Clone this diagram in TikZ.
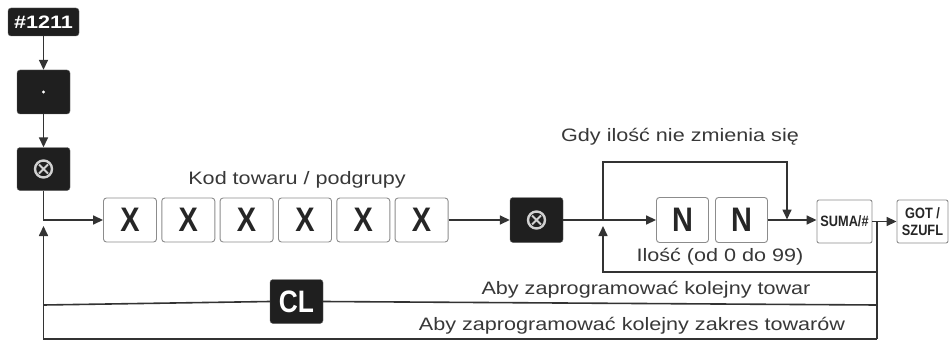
\documentclass[tikz,border=0pt]{standalone}
\usepackage{fontspec}
\setmainfont{Liberation Sans}
\newfontfamily\lab{Liberation Sans}[FakeStretch=1.2]
\newfontfamily\keyb{Liberation Sans}[FakeStretch=0.85]
\usetikzlibrary{arrows.meta}
\begin{document}
\begin{tikzpicture}[x=1pt,y=-1pt,
  ln/.style={line width=1.6pt, draw=black!80},
  arr/.style={ln,-{Triangle[length=10pt,width=9pt]}},
  keyblack/.style={fill=black!88, draw=black!60, rounded corners=3pt, minimum width=53pt, minimum height=44pt, inner sep=0pt},
  digbox/.style={draw=black!45, line width=0.9pt, fill=white, rounded corners=3pt, minimum width=53pt, minimum height=44pt, inner sep=0pt, font=\keyb\bfseries\fontsize{34}{34}\selectfont, text=black!85},
  smallbox/.style={draw=black!45, line width=0.9pt, fill=white, rounded corners=2pt, minimum width=55pt, minimum height=43pt, inner sep=0pt, font=\keyb\bfseries\fontsize{15}{17}\selectfont, text=black!85, align=center},
  lbl/.style={font=\lab\fontsize{18}{20}\selectfont, text=black!78, inner sep=0pt},
  sym/.style={draw=white!82!black, line width=2.4pt}
]
\fill[white] (0,0) rectangle (952,342);
\useasboundingbox (0,0) rectangle (952,342);

% left column keys
\node[keyblack, minimum width=71pt, minimum height=28pt, font=\lab\bfseries\fontsize{18}{18}\selectfont, text=white] (k1211) at (43.5,22) {\#1211};
\node[keyblack] (kdot) at (43.5,92) {};
\node[keyblack, minimum height=43pt] (kx1) at (43.5,169) {};
\fill[white] (kdot.center) circle (1.7);

% code digits
\foreach \i/\xx in {1/130,2/188.3,3/246.6,4/305,5/363.3,6/421.6}{
  \node[digbox] (x\i) at (\xx,220) {X};
}
\node[keyblack, minimum height=45pt] (kx2) at (536.5,220) {};
\foreach \k in {kx1,kx2}{
  \draw[sym] (\k.center) circle (8.5);
  \draw[sym, line width=2pt, shift={(\k.center)}] (-4.5,-4.5) -- (4.5,4.5) (-4.5,4.5) -- (4.5,-4.5);
}

% quantity
\node[digbox, minimum width=52pt, minimum height=45pt] (n1) at (682.5,220) {N};
\node[digbox, minimum width=52pt, minimum height=45pt] (n2) at (741.5,220) {N};
\node[smallbox] (suma) at (844.5,221.5) {SUMA/\#};
\node[smallbox, minimum width=51pt] (got) at (922.5,221.5) {GOT /\\SZUFL};

\node[keyblack, font=\keyb\bfseries\fontsize{31}{31}\selectfont, text=white] (cl) at (296.5,301.5) {CL};

% labels
\node[lbl] (tkod) at (297,180) {Kod towaru / podgrupy};
\node[lbl] (tgdy) at (680,137) {Gdy ilość nie zmienia się};
\node[lbl] (tilo) at (720,257) {Ilość (od 0 do 99)};
\node[lbl] (tabt) at (646,290) {Aby zaprogramować kolejny towar};
\node[lbl] (tabz) at (632,326) {Aby zaprogramować kolejny zakres towarów};

% coordinates
\coordinate (j2) at (603,220);
\coordinate (t1) at (603,162);
\coordinate (t2) at (787,162);
\coordinate (t3) at (787,219.5);
\coordinate (j4) at (877,221.5);
\coordinate (b1) at (877,272);
\coordinate (b2) at (603,272);
\coordinate (u2) at (603,226);
\coordinate (c1) at (877,305);
\coordinate (c2) at (43.5,305);
\coordinate (d1) at (877,339);
\coordinate (d2) at (43.5,339);
\coordinate (u1) at (43.5,226);

% connectors
\draw[arr] (k1211.south) -- (kdot.north);
\draw[arr] (kdot.south) -- (kx1.north);
\draw[arr] (kx1.south) |- (x1.west);
\draw[arr] (x6.east) -- (kx2.west);
\draw[arr] (kx2.east) -- (n1.west);
\draw[arr] (n2.east) -- (n2.east -| suma.west);
\draw[arr] (suma.east) -- (got.west);
\draw[arr] (j2) -- (t1) -- (t2) -- (t3);
\draw[ln] (j4) -- (d1);
\draw[arr] (b1) -- (b2) -- (u2);
\draw[ln] (c1) -- (cl.east);
\draw[ln] (cl.west) -- (c2);
\draw[arr] (d1) -- (d2) -- (u1);
\end{tikzpicture}
\end{document}
